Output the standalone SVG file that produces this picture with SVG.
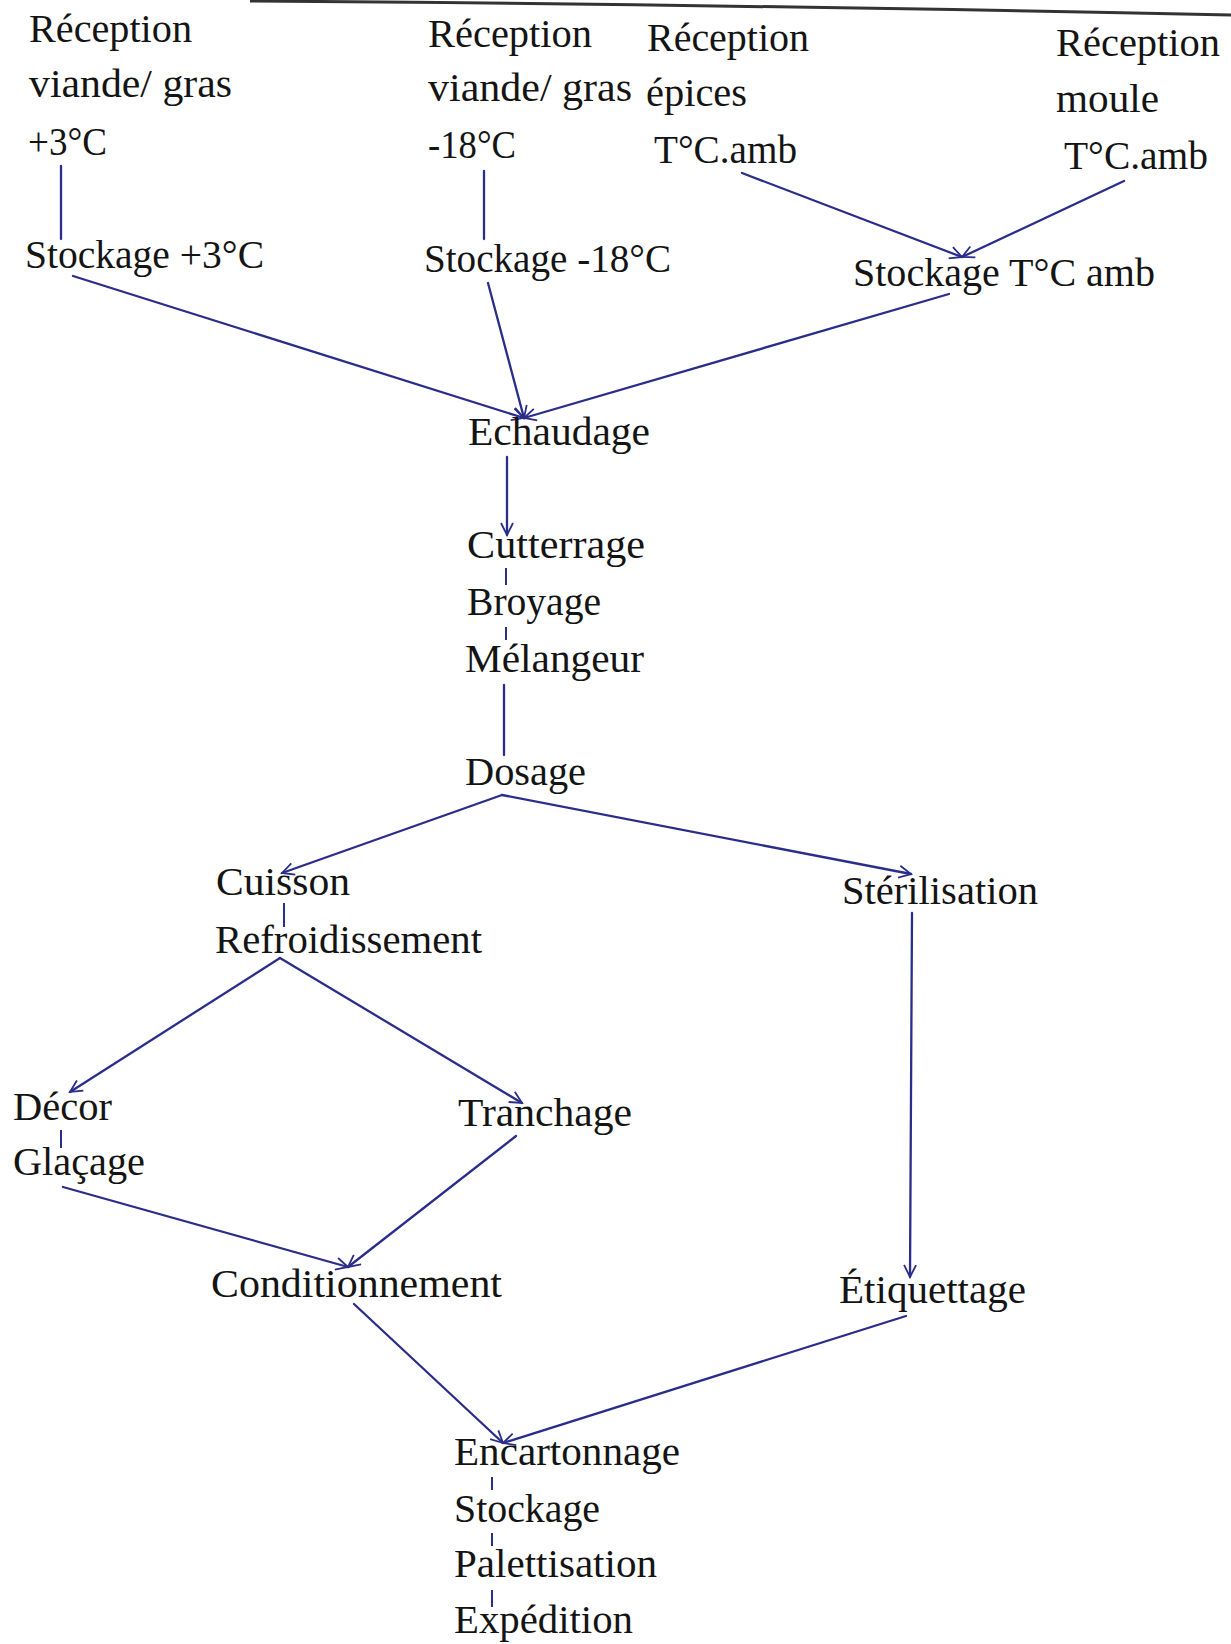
<svg xmlns="http://www.w3.org/2000/svg" width="1231" height="1644" viewBox="0 0 1231 1644">
<style>
text{font-family:"Liberation Serif","Times New Roman",serif;font-size:40px;fill:#141414}
.c{stroke:#2a2d8a;stroke-width:2.3;fill:none;stroke-linecap:round}
.t{stroke:#2a2d8a;stroke-width:2;fill:none}
.a{marker-end:url(#ah)}
</style>
<defs>
<marker id="ah" markerUnits="userSpaceOnUse" markerWidth="16" markerHeight="14" refX="13" refY="7" orient="auto">
<path d="M1,1 L13,7 L1,13" fill="none" stroke="#2a2d8a" stroke-width="1.8"/>
</marker>
</defs>
<rect width="1231" height="1644" fill="#ffffff"/>
<path d="M250,1 Q700,4 1231,15" stroke="#333333" stroke-width="3" fill="none"/>
<g id="connectors">
<line class="c" x1="61" y1="166" x2="61" y2="239"/>
<line class="c" x1="484" y1="171" x2="484" y2="239"/>
<line class="c a" x1="742" y1="173" x2="962" y2="257"/>
<line class="c a" x1="1124" y1="181" x2="962" y2="257"/>
<line class="c a" x1="73" y1="276" x2="524" y2="418"/>
<line class="c a" x1="488" y1="283" x2="524" y2="418"/>
<line class="c a" x1="949" y1="294" x2="524" y2="418"/>
<line class="c a" x1="507" y1="457" x2="507" y2="535"/>
<line class="t" x1="506" y1="568" x2="506" y2="585"/>
<line class="t" x1="506" y1="627" x2="506" y2="640"/>
<line class="c" x1="504" y1="685" x2="504" y2="755"/>
<line class="c a" x1="502" y1="795" x2="282" y2="873"/>
<line class="c a" x1="502" y1="795" x2="911" y2="874"/>
<line class="t" x1="284" y1="903" x2="284" y2="927"/>
<line class="c a" x1="280" y1="958" x2="70" y2="1092"/>
<line class="c a" x1="280" y1="958" x2="522" y2="1103"/>
<line class="t" x1="61" y1="1130" x2="61" y2="1148"/>
<line class="c a" x1="912" y1="913" x2="910" y2="1277"/>
<line class="c a" x1="63" y1="1187" x2="348" y2="1267"/>
<line class="c a" x1="516" y1="1136" x2="348" y2="1267"/>
<line class="c a" x1="354" y1="1304" x2="503" y2="1443"/>
<line class="c a" x1="906" y1="1316" x2="503" y2="1443"/>
<line class="t" x1="492" y1="1477" x2="492" y2="1490"/>
<line class="t" x1="492" y1="1533" x2="492" y2="1546"/>
<line class="t" x1="492" y1="1590" x2="492" y2="1607"/>
</g>
<g id="reception-viande-3">
<text x="29" y="42" textLength="163" lengthAdjust="spacingAndGlyphs">Réception</text>
<text x="29" y="97" textLength="203" lengthAdjust="spacingAndGlyphs">viande/ gras</text>
<text x="28" y="155" textLength="79" lengthAdjust="spacingAndGlyphs">+3°C</text>
</g>
<g id="stockage-3"><text x="25" y="268" textLength="239" lengthAdjust="spacingAndGlyphs">Stockage +3°C</text></g>
<g id="reception-viande-18">
<text x="428" y="47" textLength="164" lengthAdjust="spacingAndGlyphs">Réception</text>
<text x="428" y="101" textLength="204" lengthAdjust="spacingAndGlyphs">viande/ gras</text>
<text x="428" y="158" textLength="88" lengthAdjust="spacingAndGlyphs">-18°C</text>
</g>
<g id="stockage-18"><text x="424" y="272" textLength="247" lengthAdjust="spacingAndGlyphs">Stockage -18°C</text></g>
<g id="reception-epices">
<text x="647" y="51" textLength="162" lengthAdjust="spacingAndGlyphs">Réception</text>
<text x="646" y="106" textLength="101" lengthAdjust="spacingAndGlyphs">épices</text>
<text x="654" y="163" textLength="143" lengthAdjust="spacingAndGlyphs">T°C.amb</text>
</g>
<g id="reception-moule">
<text x="1056" y="56" textLength="164" lengthAdjust="spacingAndGlyphs">Réception</text>
<text x="1056" y="112" textLength="103" lengthAdjust="spacingAndGlyphs">moule</text>
<text x="1064" y="169" textLength="144" lengthAdjust="spacingAndGlyphs">T°C.amb</text>
</g>
<g id="stockage-amb"><text x="853" y="286" textLength="302" lengthAdjust="spacingAndGlyphs">Stockage T°C amb</text></g>
<g id="echaudage"><text x="468" y="445" textLength="182" lengthAdjust="spacingAndGlyphs">Echaudage</text></g>
<g id="cutterrage">
<text x="467" y="558" textLength="178" lengthAdjust="spacingAndGlyphs">Cutterrage</text>
<text x="467" y="615" textLength="134" lengthAdjust="spacingAndGlyphs">Broyage</text>
<text x="465" y="672" textLength="179" lengthAdjust="spacingAndGlyphs">Mélangeur</text>
</g>
<g id="dosage"><text x="465" y="785" textLength="121" lengthAdjust="spacingAndGlyphs">Dosage</text></g>
<g id="cuisson">
<text x="216" y="895" textLength="134" lengthAdjust="spacingAndGlyphs">Cuisson</text>
<text x="215" y="953" textLength="267" lengthAdjust="spacingAndGlyphs">Refroidissement</text>
</g>
<g id="sterilisation"><text x="842" y="904" textLength="196" lengthAdjust="spacingAndGlyphs">Stérilisation</text></g>
<g id="decor">
<text x="13" y="1120" textLength="99" lengthAdjust="spacingAndGlyphs">Décor</text>
<text x="13" y="1175" textLength="132" lengthAdjust="spacingAndGlyphs">Glaçage</text>
</g>
<g id="tranchage"><text x="458" y="1126" textLength="174" lengthAdjust="spacingAndGlyphs">Tranchage</text></g>
<g id="conditionnement"><text x="211" y="1297" textLength="291" lengthAdjust="spacingAndGlyphs">Conditionnement</text></g>
<g id="etiquettage"><text x="839" y="1303" textLength="187" lengthAdjust="spacingAndGlyphs">Étiquettage</text></g>
<g id="encartonnage">
<text x="454" y="1465" textLength="226" lengthAdjust="spacingAndGlyphs">Encartonnage</text>
<text x="454" y="1522" textLength="146" lengthAdjust="spacingAndGlyphs">Stockage</text>
<text x="454" y="1577" textLength="203" lengthAdjust="spacingAndGlyphs">Palettisation</text>
<text x="454" y="1633" textLength="179" lengthAdjust="spacingAndGlyphs">Expédition</text>
</g>
</svg>
